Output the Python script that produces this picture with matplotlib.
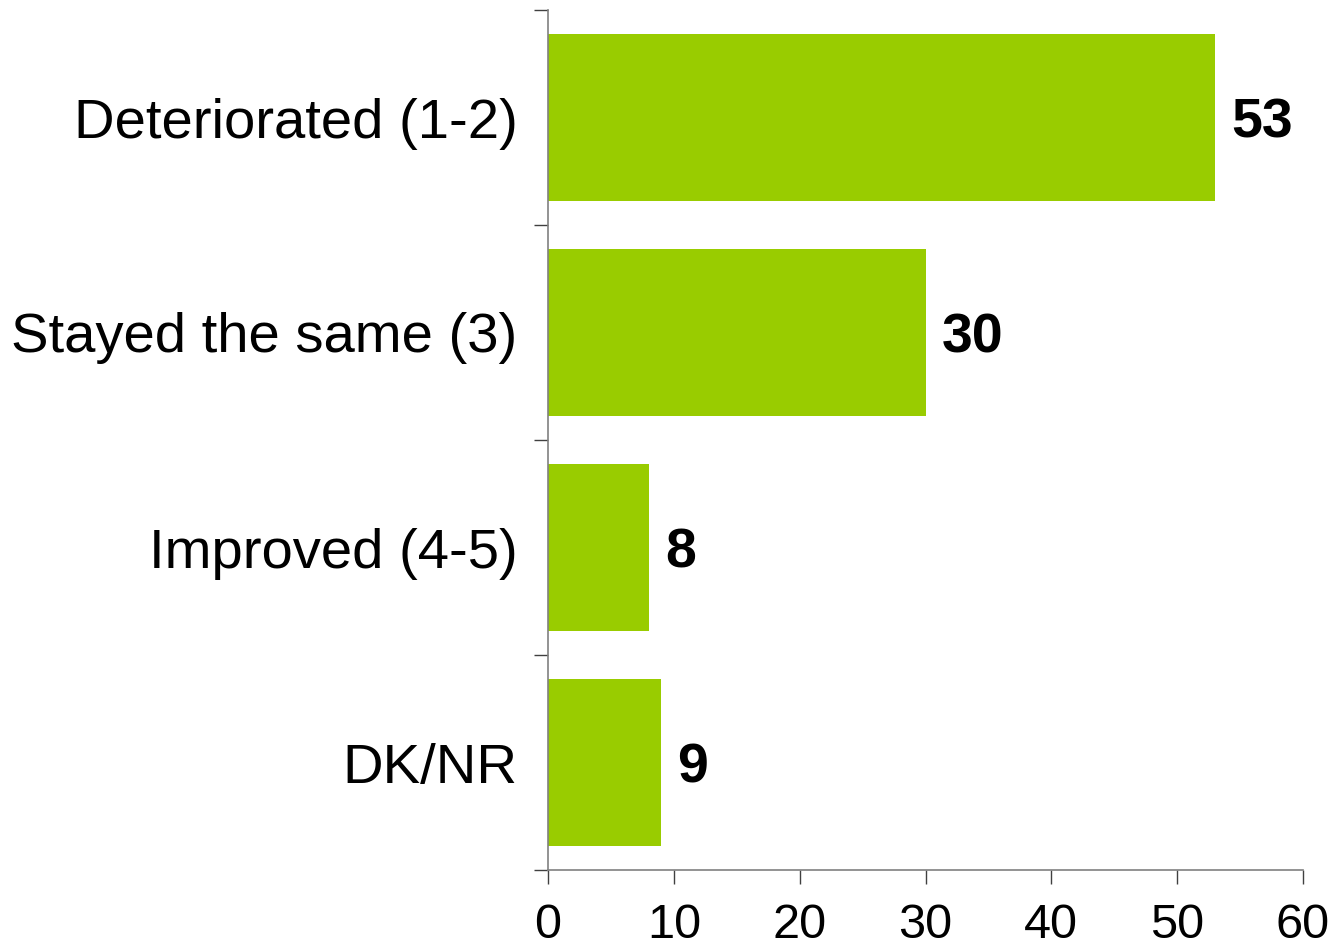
import numpy as np
import matplotlib
matplotlib.use("Agg")
import matplotlib.pyplot as plt

plt.rcParams['font.family'] = ['Liberation Sans', 'DejaVu Sans']

# 데이터
categories = ["Deteriorated (1-2)", "Stayed the same (3)", "Improved (4-5)", "DK/NR"]
values = [53, 30, 8, 9]
x_ticks = [0, 10, 20, 30, 40, 50, 60]

BAR_COLOR = "#99CC00"
AXIS_COLOR = "#808080"

fig = plt.figure(figsize=(13.34, 9.46), dpi=100)
ax = fig.add_axes([548 / 1334, 1 - 870 / 946, (1303 - 548) / 1334, (870 - 10) / 946])

y_pos = np.arange(len(categories))
ax.barh(y_pos, values, height=0.78, color=BAR_COLOR, zorder=2)

# 값 라벨
for y, v in zip(y_pos, values):
    ax.text(v + 1.3, y, str(v), va="center_baseline", ha="left",
            fontsize=40, fontweight="bold", color="black")

ax.set_xlim(0, 60)
ax.set_ylim(len(categories) - 0.5, -0.5)

ax.set_xticks(x_ticks)
ax.set_xticklabels([str(t) for t in x_ticks], fontsize=35)
ax.set_yticks(y_pos)
ax.set_yticklabels(categories, fontsize=40.5, va="center_baseline")
ax.set_yticks(np.arange(len(categories) + 1) - 0.5, minor=True)

ax.tick_params(axis="y", which="major", length=0, pad=22)
ax.tick_params(axis="y", which="minor", length=10, width=1.0, color="#404040", direction="out")
ax.tick_params(axis="x", length=10, width=1.0, color="#404040", direction="out", pad=14)

for side in ["top", "right"]:
    ax.spines[side].set_visible(False)
for side in ["left", "bottom"]:
    ax.spines[side].set_color(AXIS_COLOR)
    ax.spines[side].set_linewidth(1.2)

fig.savefig("out.png", dpi=100, facecolor="white")
